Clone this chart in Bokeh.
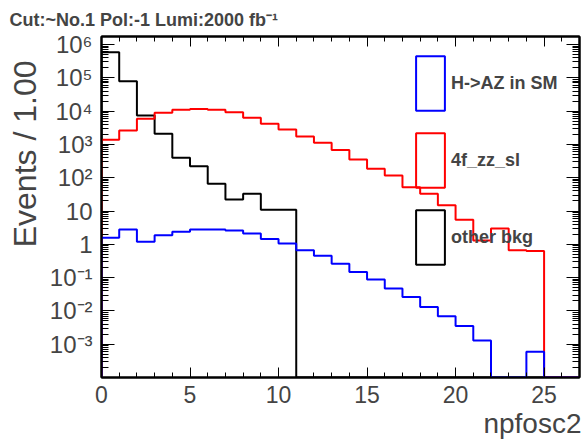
import math
from bokeh.plotting import figure
from bokeh.models import (LogAxis, LinearAxis, FixedTicker, Title, Legend,
                          LegendItem, ColumnDataSource, Range1d, CustomLabelingPolicy)
from bokeh.embed import file_html
from bokeh.resources import INLINE

# ---------------- data ----------------
bin_edges = list(range(0, 28))  # 27 bins of width 1, from 0 to 27

other_bkg = [5.9e5, 7.9e4, 7400, 2100, 400, 220, 66, 22, 33, 11, 11,
             0, 0, 0, 0, 0, 0, 0, 0, 0, 0, 0, 0, 0, 0, 0, 0]
zz_sl = [1380, 2600, 5900, 8900, 11000, 11500, 11000, 9300, 6300, 4200,
         2800, 1740, 1120, 680, 350, 186, 117, 52, 33, 15, 5.5, 1.3, 3.0,
         0.66, 0.63, 0, 0]
h_az = [1.58, 2.8, 1.2, 1.86, 2.4, 2.8, 2.8, 2.6, 2.1, 1.45, 1.05, 0.66,
        0.45, 0.26, 0.148, 0.087, 0.047, 0.026, 0.013, 0.0069, 0.0035,
        0.0013, 0, 0, 0.00059, 0, 0]

series_names = ["H->AZ in SM", "4f_zz_sl", "other bkg"]
series_colors = ["#0000ff", "#ff0000", "#000000"]

y_tick_values = [1e-3, 1e-2, 1e-1, 1.0, 10.0, 1e2, 1e3, 1e4, 1e5, 1e6]
y_tick_labels = ["10\u207b\u00b3", "10\u207b\u00b2", "10\u207b\u00b9", "1", "10",
                 "10\u00b2", "10\u00b3", "10\u2074", "10\u2075", "10\u2076"]
x_tick_values = [0, 5, 10, 15, 20, 25]

title_text = "Cut:~No.1 Pol:-1 Lumi:2000 fb\u207b\u00b9"
x_title = "npfosc2"
y_title = "Events / 1.00"

Y_MIN, Y_MAX = 1e-4, 1.74e6
X_MIN, X_MAX = 0, 27
FONT = "Liberation Sans"


def step_coords(edges, vals, floor):
    xs, ys = [edges[0]], [floor]
    for i, v in enumerate(vals):
        v = v if v > 0 else floor
        xs += [edges[i], edges[i + 1]]
        ys += [v, v]
    xs.append(edges[-1])
    ys.append(floor)
    return xs, ys


p = figure(width=584, height=443,
           x_range=Range1d(X_MIN, X_MAX), y_range=Range1d(Y_MIN, Y_MAX),
           y_axis_type="log", output_backend="svg", toolbar_location=None,
           min_border_left=101, min_border_right=1, min_border_top=36,
           min_border_bottom=66)
p.xgrid.visible = False
p.ygrid.visible = False
p.outline_line_color = "black"
p.outline_line_width = 2
p.background_fill_color = "white"
p.border_fill_color = "white"

# title
p.title.text = title_text
p.title.text_font = FONT
p.title.text_font_style = "bold"
p.title.text_font_size = "18px"
p.title.align = "left"
p.title.offset = -92
p.title.standoff = 5

minor_y = [k * 10.0 ** d for d in range(-4, 7) for k in range(2, 10)]
minor_x = list(range(X_MIN, X_MAX + 1))


def hide_labels(ax):
    ax.major_label_policy = CustomLabelingPolicy(code="return []")
    ax.major_label_text_font_size = "1px"
    ax.major_label_standoff = 0


def style_y(ax, labels=True):
    ax.ticker = FixedTicker(ticks=y_tick_values, minor_ticks=minor_y)
    ax.major_tick_in = 13
    ax.major_tick_out = 0
    ax.minor_tick_in = 7
    ax.minor_tick_out = 0
    ax.axis_line_width = 2
    if labels:
        ax.major_label_overrides = dict(zip(y_tick_values, y_tick_labels))
        ax.major_label_text_font = FONT
        ax.major_label_text_font_size = "24px"
        ax.major_label_standoff = 9
    else:
        hide_labels(ax)


def style_x(ax, labels=True):
    ax.ticker = FixedTicker(ticks=x_tick_values, minor_ticks=minor_x)
    ax.major_tick_in = 10
    ax.major_tick_out = 0
    ax.minor_tick_in = 5
    ax.minor_tick_out = 0
    ax.axis_line_width = 2
    if labels:
        ax.major_label_text_font = FONT
        ax.major_label_text_font_size = "23px"
        ax.major_label_standoff = 8
    else:
        hide_labels(ax)


style_y(p.yaxis[0])
style_x(p.xaxis[0])
right_ax = LogAxis()
style_y(right_ax, labels=False)
p.add_layout(right_ax, "right")
top_ax = LinearAxis()
style_x(top_ax, labels=False)
p.add_layout(top_ax, "above")

# axis titles (as side titles so they can be aligned like the reference)
p.add_layout(Title(text=y_title, align="right", offset=24, standoff=7,
                   text_font=FONT, text_font_size="32px", text_font_style="normal"), "left")
p.add_layout(Title(text=x_title, align="right", offset=-2, standoff=0,
                   text_font=FONT, text_font_size="28px", text_font_style="normal"), "below")

# histograms
for vals, col in [(other_bkg, series_colors[2]), (zz_sl, series_colors[1]), (h_az, series_colors[0])]:
    xs, ys = step_coords(bin_edges, vals, Y_MIN)
    p.line(xs, ys, line_color=col, line_width=2)

# legend with box glyphs (dummy quads with no visible extent)
nan = float("nan")
items = []
for name, col in zip(series_names, series_colors):
    src = ColumnDataSource(dict(left=[nan], right=[nan], top=[nan], bottom=[nan]))
    r = p.quad(left="left", right="right", top="top", bottom="bottom", source=src,
               fill_alpha=0, line_color=col, line_width=2)
    items.append(LegendItem(label=name, renderers=[r]))
legend = Legend(items=items, location=(311, 106), orientation="vertical",
                glyph_width=36, glyph_height=68, spacing=9, padding=0, margin=0,
                label_standoff=3, label_text_font=FONT, label_text_font_style="bold",
                label_text_font_size="18px", border_line_color=None,
                background_fill_alpha=0)
p.add_layout(legend, "center")

open("out.html", "w").write(file_html(p, INLINE))
